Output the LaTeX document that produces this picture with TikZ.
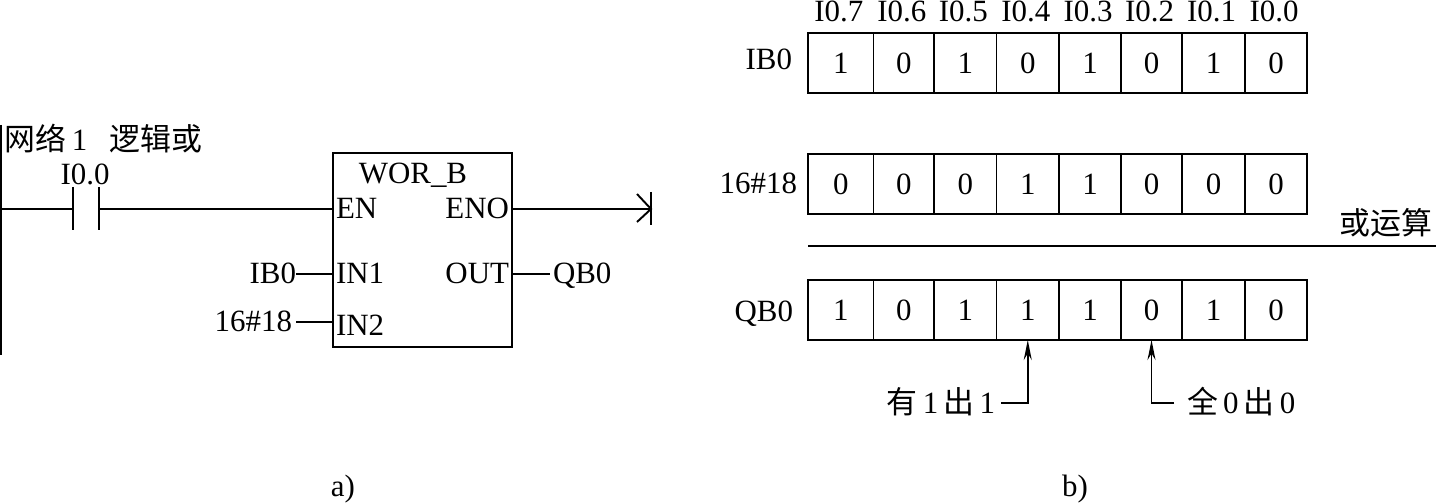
\documentclass[tikz,border=0pt]{standalone}
\usepackage{fontspec}
\setmainfont{Liberation Serif}
\newfontfamily\cjk{Noto Sans CJK SC}
\usetikzlibrary{arrows.meta}
\tikzset{
  lbl/.style={inner sep=0pt, outer sep=0pt, text height=0.42cm, text depth=0.02cm},
  pin/.style={lbl, inner xsep=0.06cm},
  cell/.style={draw, inner sep=0pt, outer sep=0pt, minimum height=1.2cm}
}
\begin{document}
\begin{tikzpicture}[x=0.02cm, y=-0.02cm, line width=1.1pt, font=\fontsize{17.6}{20}\selectfont]
  \useasboundingbox (0,0) rectangle (1436,503);
  % ladder rung
  \draw[line width=1.4pt] (1,125) -- (1,355);
  \node[lbl, anchor=west] (title) at (5,141) {{\cjk 网络}\,1\hspace{0.45cm}{\cjk 逻辑或}};
  \node[lbl] (contactlbl) at (85,175) {I0.0};
  \coordinate (rail) at (0,209);
  \coordinate (cl) at (73,209);
  \coordinate (cr) at (99,209);
  \draw (cl |- 0,187) -- (cl |- 0,230);
  \draw (cr |- 0,187) -- (cr |- 0,230);
  \node[draw, inner sep=0pt, outer sep=0pt, minimum width=3.58cm, minimum height=3.88cm] (wor) at (422.5,250) {};
  \node[lbl] (worname) at (413,174) {WOR\_B};
  \node[pin, anchor=west] (en) at (333,209) {EN};
  \node[pin, anchor=west] (in1) at (333,274) {IN1};
  \node[pin, anchor=west] (in2) at (333,326) {IN2};
  \node[pin, anchor=east] (eno) at (512,209) {ENO};
  \node[pin, anchor=east] (out) at (512,274) {OUT};
  \node[lbl, anchor=east] (ib0) at (296,274) {IB0};
  \node[lbl, anchor=east] (k18) at (292,322) {16\#18};
  \node[lbl, anchor=west] (qb0) at (553,274) {QB0};
  \draw (rail) -- (cl);
  \draw (cr) -- (en.west);
  \draw (ib0.east) -- (in1.west);
  \draw (k18.east) ++(4,0) -- (in2.west |- k18.east);
  \draw (out.east) -- ++(38,0);
  \coordinate (end) at (651,209);
  \draw (eno.east) -- (end);
  \draw (end) +(-14,-15) -- (end) -- +(-14,13);
  \draw (end) +(0,-17) -- +(0,16);
  \node[lbl] (capa) at (343,486) {a)};
  % bit rows
  \foreach \xl/\xr/\bita/\bitb/\bitc/\tag [count=\i] in {
    808/873.5/1/0/1/I0.7, 873.5/934/0/0/0/I0.6, 934/996.5/1/0/1/I0.5, 996.5/1059/0/1/1/I0.4,
    1059/1121/1/1/1/I0.3, 1121/1182/0/0/0/I0.2, 1182/1245/1/0/1/I0.1, 1245/1307/0/0/0/I0.0} {
    \node[cell, minimum width={(\xr-\xl)*0.02cm}] (a\i) at ({(\xl+\xr)/2},63) {\bita};
    \node[cell, minimum width={(\xr-\xl)*0.02cm}] (b\i) at ({(\xl+\xr)/2},184) {\bitb};
    \node[cell, minimum width={(\xr-\xl)*0.02cm}] (c\i) at ({(\xl+\xr)/2},310) {\bitc};
    \node[lbl] (t\i) at ({(\xl+\xr)/2-2},12) {\tag};
  }
  \node[lbl, anchor=east] (rowa) at (792,60) {IB0};
  \node[lbl, anchor=east] (rowb) at (797,184) {16\#18};
  \node[lbl, anchor=east] (rowc) at (793,311) {QB0};
  \node[lbl, anchor=east] (orlbl) at (1432,225) {\cjk 或运算};
  \coordinate (sumr) at (1436,246);
  \draw (b1.west |- sumr) -- (sumr);
  \node[lbl, anchor=east] (one) at (995,403) {{\cjk 有}\,1\,{\cjk 出}\,1};
  \node[lbl, anchor=west] (zero) at (1187,403) {{\cjk 全}\,0\,{\cjk 出}\,0};
  \draw[-{Stealth[length=0.4cm,width=0.16cm]}] (one.east) ++(6,0) -| (c4.south);
  \draw[-{Stealth[length=0.4cm,width=0.16cm]}] (zero.west) ++(-13,0) -| (c6.south);
  \node[lbl] (capb) at (1075,486) {b)};
\end{tikzpicture}
\end{document}
